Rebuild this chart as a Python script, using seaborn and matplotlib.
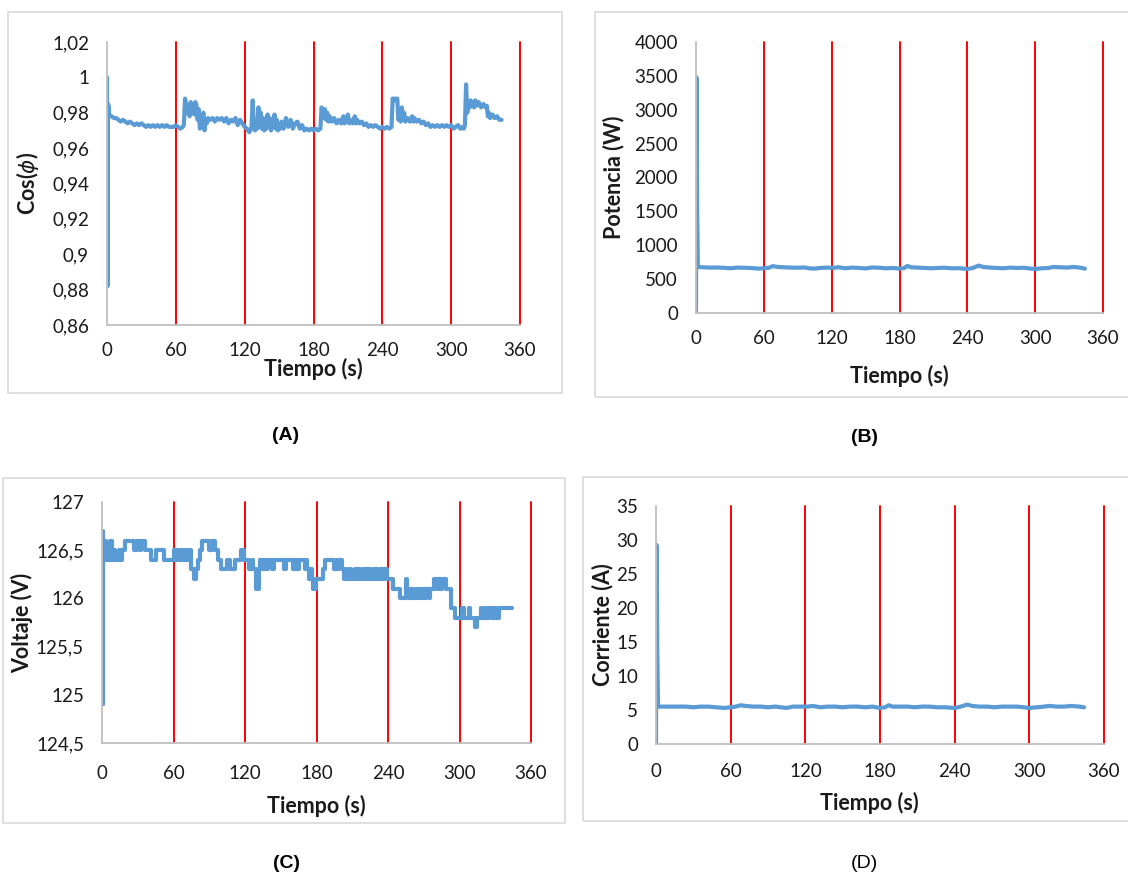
import numpy as np
import pandas as pd
import matplotlib
matplotlib.use("Agg")
import matplotlib.pyplot as plt
import seaborn as sns
from matplotlib.patches import Rectangle

# ---- data ----
# (A) power factor
t_cos = [0, 0.4, 0.8, 1.5, 2, 4, 6, 8, 10, 12, 14, 16, 18, 20, 22, 24, 26, 28, 30, 32, 34, 36, 38, 40,
         42, 44, 46, 48, 50, 52, 54, 56, 58, 60, 62, 64, 66, 67, 68, 69, 70, 71, 72, 73, 74, 75, 76, 77,
         78, 79, 80, 81, 82, 83, 84, 85, 86, 87, 88, 90, 92, 94, 96, 98, 100, 102, 104, 106, 108, 110,
         112, 114, 116, 118, 120, 122, 124, 125, 126, 127, 128, 129, 130, 131, 132, 133, 134, 135, 136,
         137, 138, 139, 140, 141, 142, 143, 144, 145, 146, 147, 148, 149, 150, 151, 152, 154, 156, 158,
         160, 162, 164, 166, 168, 170, 172, 174, 176, 178, 180, 182, 184, 186, 187, 188, 189, 190, 191,
         192, 193, 194, 196, 198, 200, 202, 204, 206, 207, 208, 210, 211, 212, 214, 216, 217, 218, 220,
         222, 224, 226, 228, 230, 232, 234, 236, 238, 240, 242, 244, 246, 248, 249, 250, 251, 252, 253,
         254, 255, 256, 257, 258, 259, 260, 262, 264, 266, 267, 268, 270, 272, 274, 276, 278, 280, 282,
         284, 286, 288, 290, 292, 294, 296, 298, 300, 302, 304, 306, 308, 310, 311, 312, 313, 314, 315,
         316, 317, 318, 319, 320, 321, 322, 324, 326, 328, 330, 331, 332, 333, 334, 336, 338, 340, 342, 344]
cos_phi = [1.000, 0.882, 0.985, 0.984, 0.978, 0.978, 0.977, 0.977, 0.976, 0.975, 0.976, 0.975, 0.974,
           0.975, 0.974, 0.973, 0.974, 0.973, 0.974, 0.973, 0.972, 0.973, 0.972, 0.973, 0.972, 0.973,
           0.972, 0.973, 0.972, 0.973, 0.972, 0.972, 0.972, 0.973, 0.972, 0.971, 0.972, 0.973, 0.988,
           0.985, 0.980, 0.984, 0.978, 0.986, 0.981, 0.985, 0.979, 0.986, 0.984, 0.976, 0.982, 0.971,
           0.978, 0.975, 0.980, 0.970, 0.976, 0.974, 0.977, 0.976, 0.977, 0.975, 0.977, 0.976, 0.977,
           0.975, 0.977, 0.974, 0.976, 0.975, 0.977, 0.973, 0.976, 0.974, 0.972, 0.971, 0.969, 0.970,
           0.972, 0.987, 0.973, 0.970, 0.975, 0.971, 0.983, 0.972, 0.980, 0.971, 0.977, 0.970, 0.976,
           0.971, 0.979, 0.972, 0.977, 0.970, 0.975, 0.972, 0.979, 0.971, 0.976, 0.970, 0.973, 0.971,
           0.975, 0.971, 0.977, 0.972, 0.976, 0.971, 0.974, 0.975, 0.971, 0.973, 0.970, 0.971, 0.970,
           0.971, 0.970, 0.971, 0.970, 0.971, 0.983, 0.981, 0.977, 0.982, 0.976, 0.980, 0.975, 0.978,
           0.975, 0.977, 0.974, 0.976, 0.974, 0.978, 0.974, 0.975, 0.979, 0.974, 0.976, 0.974, 0.978,
           0.974, 0.976, 0.974, 0.975, 0.973, 0.974, 0.972, 0.973, 0.972, 0.973, 0.972, 0.971, 0.972,
           0.971, 0.972, 0.971, 0.972, 0.988, 0.988, 0.987, 0.988, 0.988, 0.976, 0.978, 0.975, 0.983,
           0.976, 0.980, 0.975, 0.977, 0.975, 0.978, 0.975, 0.977, 0.975, 0.976, 0.974, 0.975, 0.973,
           0.974, 0.972, 0.973, 0.972, 0.973, 0.972, 0.973, 0.972, 0.973, 0.972, 0.973, 0.971, 0.972,
           0.973, 0.971, 0.972, 0.971, 0.973, 0.996, 0.980, 0.985, 0.983, 0.987, 0.984, 0.986, 0.983,
           0.987, 0.984, 0.986, 0.983, 0.985, 0.983, 0.984, 0.978, 0.980, 0.977, 0.979, 0.977, 0.978,
           0.976, 0.976]

# (B) power
t_pot = [0, 0.3, 0.6, 1.0, 1.3, 1.6, 2, 6, 12, 18, 24, 30, 36, 42, 48, 55, 60, 64, 68, 72, 78, 84, 90,
         96, 100, 105, 110, 116, 122, 126, 132, 138, 144, 150, 156, 162, 168, 174, 180, 184, 187, 190,
         196, 202, 208, 214, 220, 226, 232, 240, 245, 250, 254, 260, 266, 272, 278, 284, 290, 296, 300,
         306, 312, 316, 322, 328, 334, 340, 344]
potencia = [0, 3480, 3450, 1500, 1200, 700, 680, 675, 670, 672, 668, 660, 670, 668, 665, 655, 660, 665,
            692, 680, 675, 670, 668, 672, 660, 655, 665, 670, 668, 675, 660, 670, 665, 658, 672, 668,
            660, 665, 655, 662, 695, 675, 670, 665, 660, 665, 668, 660, 662, 650, 665, 700, 680, 670,
            665, 660, 670, 665, 668, 655, 650, 660, 665, 680, 675, 670, 680, 668, 655]

# (C) voltage (stepped readings)
t_volt = [0, 0.5, 1.2, 3, 4, 5, 6.5, 8, 10, 11, 14, 15, 17, 19.5, 27, 29, 32, 32.5, 36, 41, 45, 52, 60,
          61, 62, 63, 64.5, 65.5, 67, 68, 69, 70, 71, 72, 74, 75, 77, 79, 80.5, 82, 84, 90, 92, 95, 97,
          100, 105, 107, 112, 117, 119, 123, 126, 127, 129, 131.5, 133, 134, 135, 136, 137, 138, 139,
          143, 144, 153, 154, 160, 161, 162, 163, 164, 165, 170, 171, 172, 174, 175, 176, 177, 179.5,
          185.5, 187, 195, 197, 198, 199, 201, 203, 205, 206, 208, 209, 212, 213, 215, 216, 218, 219,
          221, 222, 224, 225, 227, 228, 230, 231, 233, 235, 237, 239, 244, 250, 255, 256, 258, 259, 260,
          261, 262, 264, 265, 266, 268, 269, 271, 272, 274, 275, 279, 281, 282, 284, 285, 289, 293, 296,
          302, 304, 308, 309, 313, 315, 318, 319, 321, 322, 325, 327, 329, 331, 333, 344]
voltaje = [126.7, 124.9, 126.6, 126.4, 126.5, 126.4, 126.6, 126.4, 126.5, 126.4, 126.5, 126.4, 126.5,
           126.6, 126.5, 126.6, 126.5, 126.6, 126.5, 126.4, 126.5, 126.4, 126.5, 126.4, 126.5, 126.4,
           126.5, 126.4, 126.5, 126.4, 126.5, 126.4, 126.5, 126.4, 126.5, 126.3, 126.2, 126.3, 126.4,
           126.5, 126.6, 126.5, 126.6, 126.5, 126.4, 126.3, 126.4, 126.3, 126.4, 126.5, 126.4, 126.3,
           126.4, 126.3, 126.1, 126.3, 126.4, 126.3, 126.4, 126.3, 126.4, 126.3, 126.4, 126.3, 126.4,
           126.3, 126.4, 126.3, 126.4, 126.3, 126.4, 126.3, 126.4, 126.3, 126.4, 126.3, 126.2, 126.3,
           126.2, 126.1, 126.2, 126.3, 126.4, 126.3, 126.4, 126.3, 126.4, 126.3, 126.2, 126.3, 126.2,
           126.3, 126.2, 126.3, 126.2, 126.3, 126.2, 126.3, 126.2, 126.3, 126.2, 126.3, 126.2, 126.3,
           126.2, 126.3, 126.2, 126.3, 126.2, 126.3, 126.2, 126.1, 126.0, 126.2, 126.1, 126.0, 126.1,
           126.0, 126.1, 126.0, 126.1, 126.0, 126.1, 126.0, 126.1, 126.0, 126.1, 126.0, 126.1, 126.2,
           126.1, 126.2, 126.1, 126.2, 126.1, 125.9, 125.8, 125.9, 125.8, 125.9, 125.8, 125.7, 125.8,
           125.9, 125.8, 125.9, 125.8, 125.9, 125.8, 125.9, 125.8, 125.9, 125.9]

# (D) current
t_corr = [0, 0.3, 0.6, 1.0, 1.3, 1.6, 2, 6, 12, 18, 24, 30, 36, 42, 48, 55, 60, 64, 68, 72, 78, 84, 90,
          96, 100, 105, 110, 116, 122, 126, 132, 138, 144, 150, 156, 162, 168, 174, 180, 184, 187, 190,
          196, 202, 208, 214, 220, 226, 232, 240, 245, 250, 254, 260, 266, 272, 278, 284, 290, 296, 300,
          306, 312, 316, 322, 328, 334, 340, 344]
corriente = [0, 29.3, 29.0, 14.0, 10.0, 5.7, 5.5, 5.5, 5.5, 5.5, 5.5, 5.4, 5.5, 5.5, 5.4, 5.3, 5.4, 5.5,
             5.7, 5.6, 5.5, 5.5, 5.4, 5.5, 5.4, 5.3, 5.5, 5.5, 5.5, 5.6, 5.4, 5.5, 5.5, 5.4, 5.5, 5.5,
             5.4, 5.5, 5.3, 5.4, 5.7, 5.5, 5.5, 5.5, 5.4, 5.5, 5.5, 5.4, 5.4, 5.3, 5.5, 5.8, 5.6, 5.5,
             5.5, 5.4, 5.5, 5.5, 5.5, 5.4, 5.3, 5.4, 5.5, 5.6, 5.5, 5.5, 5.6, 5.5, 5.4]

x_ticks = [0, 60, 120, 180, 240, 300, 360]
limit_lines = [60, 120, 180, 240, 300, 360]
cos_ticks = [0.86, 0.88, 0.90, 0.92, 0.94, 0.96, 0.98, 1.00, 1.02]
cos_labels = ["0,86", "0,88", "0,9", "0,92", "0,94", "0,96", "0,98", "1", "1,02"]
pot_ticks = [0, 500, 1000, 1500, 2000, 2500, 3000, 3500, 4000]
volt_ticks = [124.5, 125, 125.5, 126, 126.5, 127]
volt_labels = ["124,5", "125", "125,5", "126", "126,5", "127"]
corr_ticks = [0, 5, 10, 15, 20, 25, 30, 35]

sns.set_style("white")
plt.rcParams["font.family"] = ["Lato", "DejaVu Sans"]

W, H = 1128, 877
fig = plt.figure(figsize=(W / 100, H / 100), dpi=100)

blue = "#5b9bd5"
grey = "#bfbfbf"
txt = "#1a1a1a"


def px_axes(l, t, r, b):
    return fig.add_axes([l / W, 1 - b / H, (r - l) / W, (b - t) / H])


def frame(l, t, r, b):
    fig.patches.append(Rectangle((l / W, 1 - b / H), (r - l) / W, (b - t) / H,
                                 transform=fig.transFigure, fill=False,
                                 edgecolor="#d9d9d9", linewidth=1.2))


def panel(ax, t, y, ylim, yticks, ylabels, ylab, xpad, xlab_y, ylab_x, xlab_x=0.5, steps=False):
    kw = dict(drawstyle="steps-post") if steps else {}
    sns.lineplot(x=t, y=y, ax=ax, color=blue, linewidth=3.0, estimator=None, sort=False, **kw)
    for v in limit_lines:
        ax.axvline(v, color="#ff0000", linewidth=1.4, clip_on=False, zorder=1)
    ax.set_xlim(0, 360)
    ax.set_ylim(*ylim)
    ax.set_xticks(x_ticks)
    ax.set_yticks(yticks)
    ax.set_yticklabels(ylabels)
    ax.tick_params(axis="both", length=0, labelsize=13.5, colors=txt)
    ax.tick_params(axis="x", pad=xpad)
    ax.tick_params(axis="y", pad=13)
    for s in ["top", "right"]:
        ax.spines[s].set_visible(False)
    for s in ["left", "bottom"]:
        ax.spines[s].set_color(grey)
        ax.spines[s].set_linewidth(1.3)
    ax.set_xlabel("Tiempo (s)", fontsize=15.5, fontweight="bold", color=txt)
    ax.set_ylabel(ylab, fontsize=15.5, fontweight="bold", color=txt)
    ax.xaxis.set_label_coords(xlab_x, xlab_y)
    ax.yaxis.set_label_coords(ylab_x, 0.5)
    ax.set_facecolor("none")


frame(8, 12, 562, 393)
frame(595, 12, 1135, 397)
frame(3, 478, 565, 823)
frame(583, 477, 1135, 821)

ax_a = px_axes(107, 42, 520, 325)
panel(ax_a, t_cos, cos_phi, (0.86, 1.02), cos_ticks, cos_labels, r"Cos($\phi$)",
      xpad=12, xlab_y=-0.115, ylab_x=-0.16)

ax_b = px_axes(696, 42, 1103, 313)
panel(ax_b, t_pot, potencia, (0, 4000), pot_ticks, [str(v) for v in pot_ticks], "Potencia (W)",
      xpad=12, xlab_y=-0.19, ylab_x=-0.175)

ax_c = px_axes(102, 502, 531, 743)
panel(ax_c, t_volt, voltaje, (124.5, 127), volt_ticks, volt_labels, "Voltaje (V)",
      xpad=16, xlab_y=-0.215, ylab_x=-0.16, steps=True)

ax_d = px_axes(656, 506, 1104, 744)
panel(ax_d, t_corr, corriente, (0, 35), corr_ticks, [str(v) for v in corr_ticks], "Corriente (A)",
      xpad=14, xlab_y=-0.2, ylab_x=-0.095, xlab_x=0.477)

lab = dict(ha="center", va="center", fontsize=14, family=["Liberation Sans"], color="black")
fig.text(286 / W, 1 - 436 / H, "(A)", fontweight="bold", **lab)
fig.text(864 / W, 1 - 438 / H, "(B)", fontweight="bold", **lab)
fig.text(286 / W, 1 - 864 / H, "(C)", fontweight="bold", **lab)
fig.text(864 / W, 1 - 864 / H, "(D)", **lab)

fig.savefig("out.png", dpi=100, facecolor="white")
